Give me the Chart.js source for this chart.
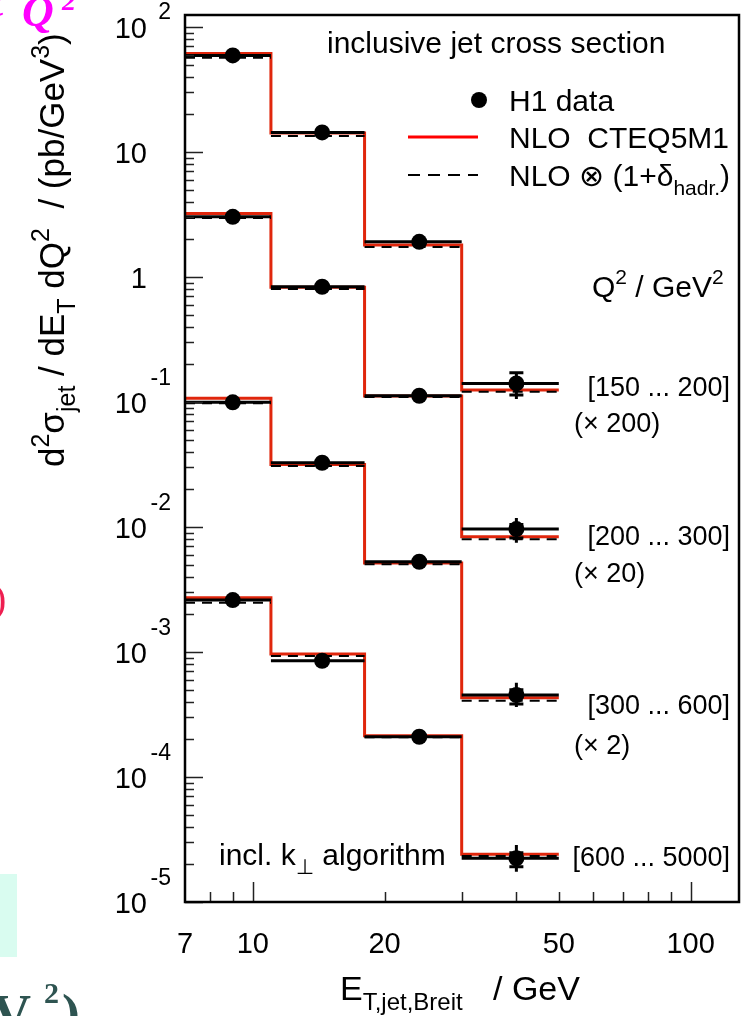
<!DOCTYPE html>
<html>
<head>
<meta charset="utf-8">
<script src="https://cdn.jsdelivr.net/npm/chart.js@4"></script>
<style>
  html, body { margin: 0; padding: 0; background: #fff; overflow: hidden; }
  canvas { display: block; }
</style>
</head>
<body>
<canvas id="xsec" width="747" height="1016"></canvas>
<script>
// E_T,jet bins (GeV) and where the data points sit
const binEdges = [7, 11, 18, 30, 50];
const binCentres = [9, 14.4, 24, 40];

const q2Labels = ['[150 ... 200]', '[200 ... 300]', '[300 ... 600]', '[600 ... 5000]'];
const scaleLabels = ['(\u00d7 200)', '(\u00d7 20)', '(\u00d7 2)', ''];

const xTickValues = [7, 10, 20, 50, 100];
const yTickPowers = [-5, -4, -3, -2, -1, 0, 1, 2];

// H1 data, already multiplied by the scale factor (pb/GeV^3)
const h1_150_200 = [59.4, 14.38, 1.916, 0.1411];
const h1_200_300 = [3.036, 0.8366, 0.1123, 0.00964];
const h1_300_600 = [0.0995, 0.03268, 0.005278, 4.53e-4];
const h1_600_5000 = [2.606e-3, 8.52e-4, 2.1e-4, 2.237e-5];

// NLO CTEQ5M1
const nlo_150_200 = [61.6, 14.2, 1.803, 0.1247];
const nlo_200_300 = [3.233, 0.83, 0.112, 0.00836];
const nlo_300_600 = [0.1071, 0.0317, 0.00515, 4.31e-4];
const nlo_600_5000 = [2.719e-3, 9.64e-4, 2.14e-4, 2.408e-5];

// NLO x (1 + delta_hadr.)
const had_150_200 = [56.9, 13.43, 1.738, 0.1209];
const had_200_300 = [2.965, 0.8017, 0.1096, 0.00797];
const had_300_600 = [0.098, 0.03076, 0.00503, 4.08e-4];
const had_600_5000 = [2.48e-3, 9.29e-4, 2.08e-4, 2.33e-5];

// errors: total [lo, hi] and statistical [lo, hi] (caps)
const tot_150_200 = [[57.9, 60.9], [14.0, 14.75], [1.87, 1.965], [0.1057, 0.1715]];
const stat_150_200 = [[58.5, 60.3], [14.2, 14.55], [1.89, 1.94], [0.1138, 0.1715]];
const tot_200_300 = [[2.96, 3.11], [0.815, 0.858], [0.1095, 0.1152], [0.00748, 0.0118]];
const stat_200_300 = [[2.99, 3.08], [0.826, 0.847], [0.111, 0.1136], [0.00817, 0.0105]];
const tot_300_600 = [[0.097, 0.102], [0.0318, 0.0336], [0.00512, 0.00544], [3.63e-4, 5.68e-4]];
const stat_300_600 = [[0.0985, 0.1005], [0.0323, 0.0331], [0.0052, 0.00536], [3.84e-4, 5.0e-4]];
const tot_600_5000 = [[2.54e-3, 2.67e-3], [8.2e-4, 8.85e-4], [2.02e-4, 2.18e-4], [1.748e-5, 2.86e-5]];
const stat_600_5000 = [[2.57e-3, 2.64e-3], [8.35e-4, 8.7e-4], [2.06e-4, 2.14e-4], [1.916e-5, 2.48e-5]];

const seriesList = [
    { h1: h1_150_200, nlo: nlo_150_200, had: had_150_200, tot: tot_150_200, stat: stat_150_200 },
    { h1: h1_200_300, nlo: nlo_200_300, had: had_200_300, tot: tot_200_300, stat: stat_200_300 },
    { h1: h1_300_600, nlo: nlo_300_600, had: had_300_600, tot: tot_300_600, stat: stat_300_600 },
    { h1: h1_600_5000, nlo: nlo_600_5000, had: had_600_5000, tot: tot_600_5000, stat: stat_600_5000 }
];

const FONT = "'Liberation Sans', 'DejaVu Sans', Arial, sans-serif";

function stepPoints(vals) {
    return binEdges.map(function (x, i) {
        return { x: x, y: vals[Math.min(i, vals.length - 1)] };
    });
}
function barPoints(vals) {
    let pts = [];
    vals.forEach(function (v, i) {
        pts.push({ x: binEdges[i], y: v }, { x: binEdges[i + 1], y: v }, { x: binEdges[i + 1], y: null });
    });
    return pts;
}

let datasets = [];
seriesList.forEach(function (s) {
    datasets.push({
        data: stepPoints(s.nlo),
        stepped: true,
        borderColor: '#e0260c',
        borderWidth: 3,
        pointRadius: 0,
        fill: false,
        order: 3
    });
    datasets.push({
        data: barPoints(s.had),
        borderColor: '#000',
        borderWidth: 2,
        borderDash: [10, 7],
        pointRadius: 0,
        spanGaps: false,
        fill: false,
        order: 2
    });
    datasets.push({
        data: barPoints(s.h1),
        borderColor: '#000',
        borderWidth: 3,
        pointRadius: 0,
        spanGaps: false,
        fill: false,
        order: 1
    });
    datasets.push({
        data: binCentres.map(function (x, i) { return { x: x, y: s.h1[i] }; }),
        showLine: false,
        pointRadius: 8,
        pointBackgroundColor: '#000',
        pointBorderWidth: 0,
        order: 0
    });
});

// rich text with sub/superscripts, returns end x
function drawRich(ctx, x, y, runs, size, small) {
    ctx.textAlign = 'left';
    ctx.textBaseline = 'alphabetic';
    runs.forEach(function (r) {
        const s = r.k ? small : size;
        ctx.font = s + 'px ' + FONT;
        const dy = r.k === 'sup' ? -size * 0.42 : (r.k === 'sub' ? size * 0.3 : 0);
        ctx.fillText(r.t, x, y + dy);
        x += ctx.measureText(r.t).width;
    });
    return x;
}

const errorBars = {
    id: 'errorBars',
    afterDatasetsDraw: function (chart) {
        const ctx = chart.ctx, xs = chart.scales.x, ys = chart.scales.y;
        ctx.save();
        ctx.strokeStyle = '#000';
        ctx.lineWidth = 3;
        seriesList.forEach(function (s) {
            binCentres.forEach(function (xc, i) {
                const px = xs.getPixelForValue(xc);
                ctx.beginPath();
                ctx.moveTo(px, ys.getPixelForValue(s.tot[i][0]));
                ctx.lineTo(px, ys.getPixelForValue(s.tot[i][1]));
                s.stat[i].forEach(function (v) {
                    const py = ys.getPixelForValue(v);
                    ctx.moveTo(px - 7, py);
                    ctx.lineTo(px + 7, py);
                });
                ctx.stroke();
            });
        });
        ctx.restore();
    }
};

const frameAndText = {
    id: 'frameAndText',
    beforeDraw: function (chart) {
        const ctx = chart.ctx;
        ctx.save();
        ctx.fillStyle = '#fff';
        ctx.fillRect(0, 0, chart.width, chart.height);
        ctx.restore();
    },
    afterDraw: function (chart) {
        const ctx = chart.ctx, a = chart.chartArea;
        const xs = chart.scales.x, ys = chart.scales.y;
        ctx.save();

        // ticks, pointing into the frame
        ctx.strokeStyle = '#222';
        ctx.lineWidth = 1.5;
        ctx.beginPath();
        for (let p = -5; p <= 2; p++) {
            for (let m = 1; m <= 9; m++) {
                const v = m * Math.pow(10, p);
                if (v < ys.min || v > ys.max) continue;
                const py = Math.round(ys.getPixelForValue(v)) + 0.5;
                ctx.moveTo(a.left, py);
                ctx.lineTo(a.left + (m === 1 ? 18 : 9), py);
            }
        }
        for (let p = 0; p <= 2; p++) {
            for (let m = 1; m <= 9; m++) {
                const v = m * Math.pow(10, p);
                if (v <= xs.min || v > xs.max) continue;
                const px = Math.round(xs.getPixelForValue(v)) + 0.5;
                ctx.moveTo(px, a.bottom);
                ctx.lineTo(px, a.bottom - (m === 1 ? 20 : 10));
            }
        }
        ctx.stroke();

        // frame
        ctx.strokeStyle = '#000';
        ctx.lineWidth = 2.5;
        ctx.strokeRect(a.left, a.top, a.right - a.left, a.bottom - a.top);

        ctx.fillStyle = '#000';
        // x tick labels
        ctx.font = '29px ' + FONT;
        ctx.textAlign = 'center';
        ctx.textBaseline = 'alphabetic';
        xTickValues.forEach(function (v) {
            ctx.fillText(String(v), xs.getPixelForValue(v), 953);
        });
        // y tick labels
        yTickPowers.forEach(function (p) {
            const py = ys.getPixelForValue(Math.pow(10, p));
            ctx.textAlign = 'right';
            ctx.textBaseline = 'middle';
            ctx.font = '29px ' + FONT;
            ctx.fillText(p === 0 ? '1' : '10', 147, py + 3);
            if (p !== 0 && p !== 1) {
                ctx.font = '23px ' + FONT;
                ctx.fillText(String(p), 171, py + (p < 0 ? -23 : -14));
            }
        });

        // axis titles
        ctx.save();
        ctx.translate(64, 467);
        ctx.rotate(-Math.PI / 2);
        drawRich(ctx, 0, 0, [
            { t: 'd' }, { t: '2', k: 'sup' }, { t: '\u03c3' }, { t: 'jet', k: 'sub' },
            { t: ' / dE' }, { t: 'T', k: 'sub' }, { t: ' dQ' }, { t: '2', k: 'sup' },
            { t: '  / (pb/GeV' }, { t: '3', k: 'sup' }, { t: ')' }
        ], 35, 25);
        ctx.restore();
        drawRich(ctx, 340, 1000, [{ t: 'E' }, { t: 'T,jet,Breit', k: 'sub' }], 34, 24);
        drawRich(ctx, 493, 1000, [{ t: '/ GeV' }], 34, 24);

        // labels inside the frame
        drawRich(ctx, 327, 53, [{ t: 'inclusive jet cross section' }], 30, 21);
        drawRich(ctx, 509, 111, [{ t: 'H1 data' }], 30, 21);
        drawRich(ctx, 509, 148, [{ t: 'NLO  CTEQ5M1' }], 30, 21);
        drawRich(ctx, 509, 186, [{ t: 'NLO \u2297 (1+\u03b4' }, { t: 'hadr.', k: 'sub' }, { t: ')' }], 30, 21);
        drawRich(ctx, 592, 297, [{ t: 'Q' }, { t: '2', k: 'sup' }, { t: ' / GeV' }, { t: '2', k: 'sup' }], 30, 21);
        drawRich(ctx, 219, 865, [{ t: 'incl. k' }, { t: '\u22a5', k: 'sub' }, { t: ' algorithm' }], 30, 21);

        const rangeY = [396, 545, 714, 866];
        const factorY = [432, 582, 754];
        ctx.font = '27px ' + FONT;
        ctx.textBaseline = 'alphabetic';
        q2Labels.forEach(function (t, i) {
            ctx.textAlign = 'right';
            ctx.fillText(t, 730, rangeY[i]);
            if (scaleLabels[i]) {
                ctx.textAlign = 'left';
                ctx.fillText(scaleLabels[i], 574, factorY[i]);
            }
        });

        // legend markers
        ctx.beginPath();
        ctx.arc(479, 100, 8, 0, 2 * Math.PI);
        ctx.fill();
        ctx.lineWidth = 3;
        ctx.strokeStyle = '#ff0000';
        ctx.beginPath();
        ctx.moveTo(408, 137);
        ctx.lineTo(478, 137);
        ctx.stroke();
        ctx.lineWidth = 2;
        ctx.strokeStyle = '#000';
        ctx.setLineDash([12, 8]);
        ctx.beginPath();
        ctx.moveTo(408, 175);
        ctx.lineTo(478, 175);
        ctx.stroke();
        ctx.setLineDash([]);

        // bits of the slide behind the plot
        ctx.textAlign = 'left';
        ctx.fillStyle = '#ff00ff';
        ctx.font = "bold italic 44px 'Liberation Serif', serif";
        ctx.fillText('t', -9, 16);
        ctx.fillText('Q', 22, 26);
        ctx.font = "bold italic 28px 'Liberation Serif', serif";
        ctx.fillText('2', 62, 10);
        ctx.fillStyle = '#ee1e50';
        ctx.font = "40px 'Liberation Serif', serif";
        ctx.fillText(')', -7, 612);
        ctx.fillStyle = '#d9fcf0';
        ctx.fillRect(0, 874, 17, 83);
        ctx.fillStyle = '#2e5451';
        ctx.font = "bold 54px 'Liberation Serif', serif";
        ctx.fillText('V', -8, 1032);
        ctx.fillText(')', 62, 1032);
        ctx.font = "bold 30px 'Liberation Serif', serif";
        ctx.fillText('2', 44, 1003);

        ctx.restore();
    }
};

window.onload = function () {
    const ctx = document.getElementById('xsec').getContext('2d');
    new Chart(ctx, {
        type: 'line',
        data: { datasets: datasets },
        options: {
            responsive: false,
            animation: false,
            events: [],
            layout: { padding: { left: 185, right: 4, top: 15, bottom: 114 } },
            scales: {
                x: { type: 'logarithmic', min: 7, max: 129, display: false },
                y: { type: 'logarithmic', min: 1e-5, max: 125, display: false }
            },
            plugins: {
                legend: { display: false },
                tooltip: { enabled: false }
            }
        },
        plugins: [errorBars, frameAndText]
    });
};
</script>
</body>
</html>
